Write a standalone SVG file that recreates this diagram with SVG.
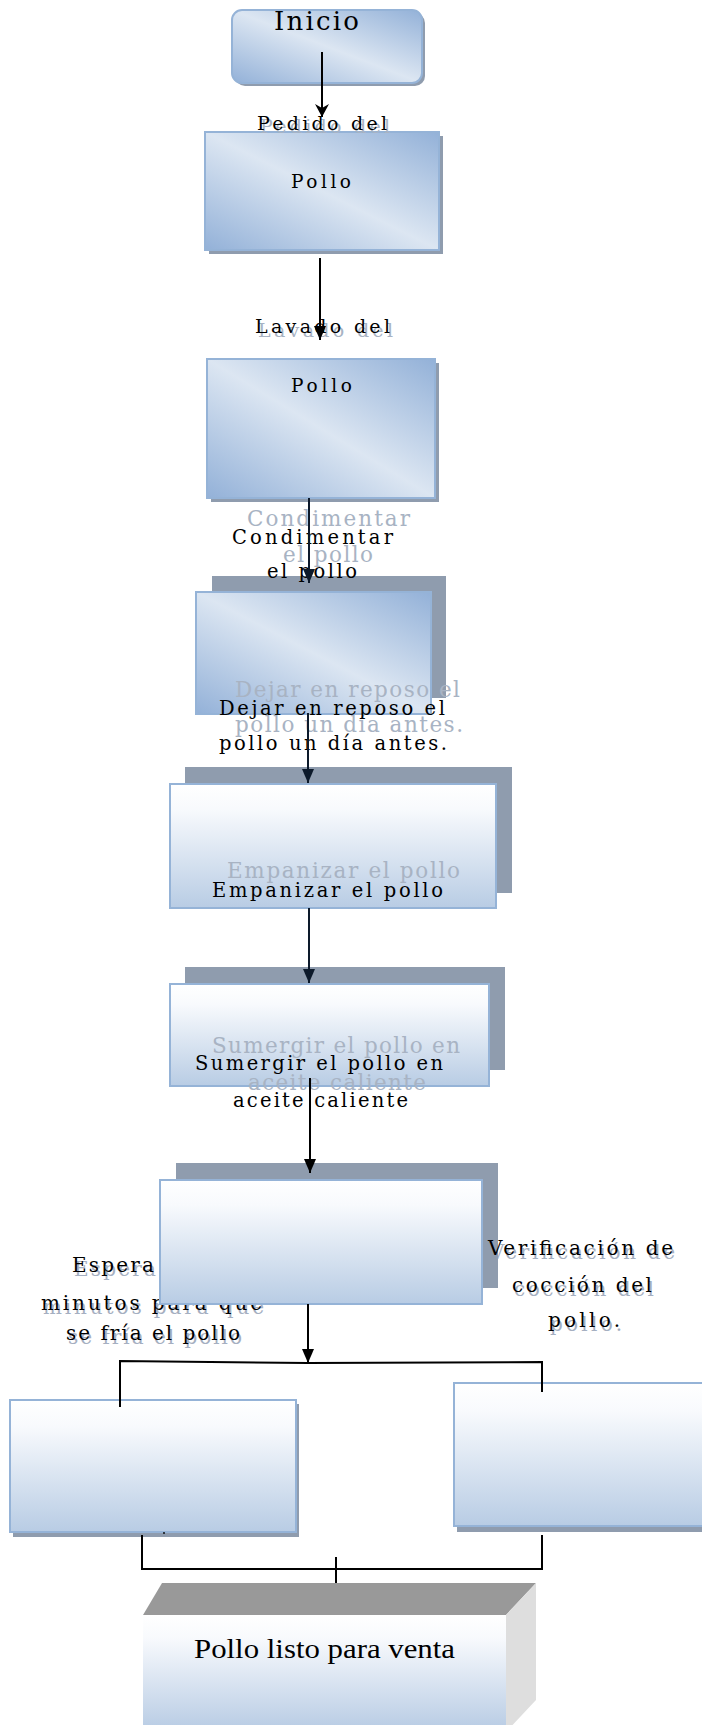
<svg xmlns="http://www.w3.org/2000/svg" width="702" height="1725" viewBox="0 0 702 1725">
<defs>
<linearGradient id="gd" x1="0" y1="1" x2="1" y2="0">
<stop offset="0" stop-color="#93b1d8"/>
<stop offset="0.5" stop-color="#dce6f2"/>
<stop offset="1" stop-color="#93b1d8"/>
</linearGradient>
<linearGradient id="gv" x1="0" y1="0" x2="0" y2="1">
<stop offset="0" stop-color="#ffffff"/>
<stop offset="0.2" stop-color="#f8fafd"/>
<stop offset="1" stop-color="#b8cce4"/>
</linearGradient>
<marker id="tri" viewBox="0 0 14 12" refX="14" refY="6" markerWidth="14" markerHeight="12" markerUnits="userSpaceOnUse" orient="auto">
<path d="M0,0 L14,6 L0,12 Z" fill="#0d1a2b"/>
</marker>
<marker id="triK" viewBox="0 0 14 12" refX="14" refY="6" markerWidth="14" markerHeight="12" markerUnits="userSpaceOnUse" orient="auto">
<path d="M0,0 L14,6 L0,12 Z" fill="#000"/>
</marker>
<marker id="dia" viewBox="0 0 16 14" refX="13" refY="7" markerWidth="16" markerHeight="14" markerUnits="userSpaceOnUse" orient="auto">
<path d="M0,0 L13,7 L0,14 L4,7 Z" fill="#000"/>
</marker>
</defs>
<style>
.t{font-family:"DejaVu Serif","Liberation Serif",serif;fill:#000}
.g{font-family:"DejaVu Serif","Liberation Serif",serif;fill:#a8b3c3}
.sh{font-family:"DejaVu Serif","Liberation Serif",serif;fill:#8f9cb2;opacity:0.8}
.p{font-family:"Liberation Serif","Times New Roman",serif;fill:#000}
.bx{stroke:#95b3d7;stroke-width:2}
.sd{fill:#8f9cae}
.ln{stroke:#000;stroke-width:2;fill:none}
.ln2{stroke:#0d1a2b;stroke-width:2;fill:none}
</style>

<g id="inicio">
<rect x="235" y="13" width="190" height="73" rx="10" fill="#8f9cae"/>
<rect x="232" y="10" width="190" height="73" rx="10" fill="url(#gd)" class="bx"/>
<text class="t" x="274" y="30" font-size="26" textLength="85" lengthAdjust="spacing">Inicio</text>
</g>

<g id="pedido">
<rect x="209" y="136" width="234" height="118" class="sd"/>
<rect x="205" y="132" width="234" height="118" fill="url(#gd)" class="bx"/>
<text class="g" x="260" y="133" font-size="19" textLength="130" lengthAdjust="spacing">Pedido del</text>
<text class="t" x="257" y="130" font-size="19" textLength="130" lengthAdjust="spacing">Pedido del</text>
<text class="t" x="291" y="188" font-size="18.5" textLength="60" lengthAdjust="spacing">Pollo</text>
</g>

<g id="lavado">
<text class="g" x="258" y="337" font-size="19" textLength="135" lengthAdjust="spacing">Lavado del</text>
<text class="t" x="255" y="333" font-size="19" textLength="135" lengthAdjust="spacing">Lavado del</text>
<rect x="211" y="363" width="228" height="139" class="sd"/>
<rect x="207" y="359" width="228" height="139" fill="url(#gd)" class="bx"/>
<text class="t" x="291" y="392" font-size="18.5" textLength="61" lengthAdjust="spacing">Pollo</text>
</g>

<g id="condimentar">
<rect x="212" y="576" width="234" height="122" class="sd"/>
<rect x="196" y="592" width="235" height="122" fill="url(#gd)" class="bx"/>
<text class="g" x="247" y="526" font-size="21.5" textLength="163" lengthAdjust="spacing">Condimentar</text>
<text class="g" x="283" y="562" font-size="21.5" textLength="90" lengthAdjust="spacing">el pollo</text>
<text class="t" x="232" y="544" font-size="19.5" textLength="161" lengthAdjust="spacing">Condimentar</text>
<text class="t" x="267" y="578" font-size="19.5" textLength="90" lengthAdjust="spacing">el pollo</text>
</g>

<g id="reposo">
<text class="g" x="235" y="697" font-size="21.5" textLength="225" lengthAdjust="spacing">Dejar en reposo el</text>
<text class="g" x="235" y="732" font-size="21.5" textLength="228" lengthAdjust="spacing">pollo un día antes.</text>
<text class="t" x="219" y="715" font-size="19.5" textLength="226" lengthAdjust="spacing">Dejar en reposo el</text>
<text class="t" x="219" y="750" font-size="19.5" textLength="228" lengthAdjust="spacing">pollo un día antes.</text>
</g>

<g id="empanizar">
<rect x="185" y="767" width="327" height="126" class="sd"/>
<rect x="170" y="784" width="326" height="124" fill="url(#gv)" class="bx"/>
<text class="g" x="227" y="878" font-size="21.5" textLength="233" lengthAdjust="spacing">Empanizar el pollo</text>
<text class="t" x="212" y="897" font-size="19.5" textLength="231" lengthAdjust="spacing">Empanizar el pollo</text>
</g>

<g id="sumergir">
<rect x="185" y="967" width="320" height="103" class="sd"/>
<rect x="170" y="984" width="319" height="102" fill="url(#gv)" class="bx"/>
<text class="g" x="212" y="1053" font-size="21.5" textLength="248" lengthAdjust="spacing">Sumergir el pollo en</text>
<text class="g" x="248" y="1090" font-size="21.5" textLength="178" lengthAdjust="spacing">aceite caliente</text>
<text class="t" x="195" y="1070" font-size="19.5" textLength="248" lengthAdjust="spacing">Sumergir el pollo en</text>
<text class="t" x="233" y="1107" font-size="19.5" textLength="175" lengthAdjust="spacing">aceite caliente</text>
</g>

<g id="esperar">
<text class="sh" x="74" y="1276" font-size="20" textLength="82" lengthAdjust="spacing">Espera</text>
<text class="t" x="72" y="1272" font-size="20" textLength="82" lengthAdjust="spacing">Espera</text>
<text class="sh" x="43" y="1314" font-size="20" textLength="221" lengthAdjust="spacing">minutos para que</text>
<text class="t" x="41" y="1310" font-size="20" textLength="221" lengthAdjust="spacing">minutos para que</text>
<text class="sh" x="68" y="1344" font-size="20" textLength="174" lengthAdjust="spacing">se fría el pollo</text>
<text class="t" x="66" y="1340" font-size="20" textLength="174" lengthAdjust="spacing">se fría el pollo</text>
</g>

<g id="verificacion">
<rect x="176" y="1163" width="322" height="125" class="sd"/>
<rect x="160" y="1180" width="322" height="124" fill="url(#gv)" class="bx"/>
<text class="sh" x="490" y="1259" font-size="20" textLength="185" lengthAdjust="spacing">Verificación de</text>
<text class="t" x="488" y="1255" font-size="20" textLength="185" lengthAdjust="spacing">Verificación de</text>
<text class="sh" x="514" y="1296" font-size="20" textLength="140" lengthAdjust="spacing">cocción del</text>
<text class="t" x="512" y="1292" font-size="20" textLength="140" lengthAdjust="spacing">cocción del</text>
<text class="sh" x="550" y="1331" font-size="20" textLength="72" lengthAdjust="spacing">pollo.</text>
<text class="t" x="548" y="1327" font-size="20" textLength="72" lengthAdjust="spacing">pollo.</text>
</g>

<g id="izquierda">
<rect x="13" y="1404" width="286" height="133" class="sd"/>
<rect x="10" y="1400" width="286" height="132" fill="url(#gv)" class="bx"/>
<circle cx="164" cy="1533" r="0.9" fill="#000"/>
</g>

<g id="derecha">
<rect x="457" y="1388" width="260" height="144" class="sd"/>
<rect x="454" y="1383" width="260" height="143" fill="url(#gv)" class="bx"/>
</g>

<g id="listo">
<polygon points="162,1583 536,1583 506,1615 143,1615" fill="#999999"/>
<polygon points="506,1615 536,1583 536,1700 506,1732" fill="#dedede"/>
<rect x="143" y="1615" width="363" height="115" fill="url(#gv)"/>
<text class="p" x="194" y="1658" font-size="27" textLength="261" lengthAdjust="spacingAndGlyphs">Pollo listo para venta</text>
</g>

<g id="connectors">
<line class="ln" x1="322" y1="52" x2="322" y2="117" marker-end="url(#dia)"/>
<line class="ln" x1="320" y1="258" x2="320" y2="340" marker-end="url(#triK)"/>
<line class="ln2" x1="309" y1="498" x2="309" y2="583" marker-end="url(#tri)"/>
<line class="ln2" x1="308" y1="713" x2="308" y2="783" marker-end="url(#tri)"/>
<line class="ln2" x1="309" y1="908" x2="309" y2="983" marker-end="url(#tri)"/>
<line class="ln" x1="310" y1="1078" x2="310" y2="1173" marker-end="url(#triK)"/>
<line class="ln" x1="308" y1="1304" x2="308" y2="1363" marker-end="url(#triK)"/>
<polyline class="ln" points="120,1407 120,1361 308,1363 542,1362 542,1392"/>
<polyline class="ln" points="142,1535 142,1569 542,1569 542,1535"/>
<line class="ln" x1="336" y1="1557" x2="336" y2="1583"/>
</g>
</svg>
